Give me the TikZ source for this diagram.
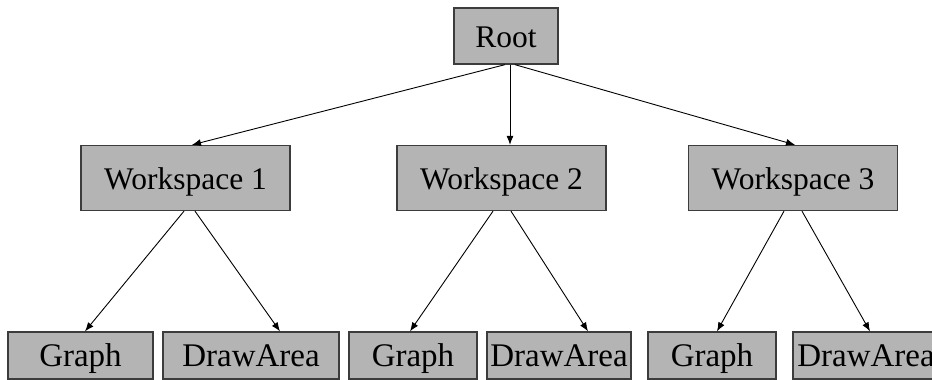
\documentclass[tikz,border=0pt]{standalone}
\usepackage{fontspec}
\setmainfont{Liberation Serif}
\newfontfamily\boxfont{Liberation Serif}
\usetikzlibrary{calc,arrows.meta}
\definecolor{boxgray}{RGB}{180,180,180}
\definecolor{edgegray}{RGB}{60,60,60}
\tikzset{
  box/.style={draw=edgegray, line width=1.3pt, fill=boxgray, inner sep=0pt,
    text height=22pt, text depth=0pt, font=\boxfont\fontsize{31.5}{36}\selectfont},
  leafbox/.style={box, minimum height=47pt, font=\boxfont\fontsize{33}{38}\selectfont},
  arr/.style={line width=0.9pt, -{Latex[length=9pt,width=7pt]}}
}

\begin{document}
\begin{tikzpicture}[x=1pt, y=-1pt]
			%%%%% START %%%%%
			\useasboundingbox (0, 0) rectangle (932, 380);
			\clip (0, 0) rectangle (932, 380);
			
			\node[box, minimum width=104pt, minimum height=56pt] (root) at (506, 36) {Root};
			
			\node[box, minimum width=209pt, minimum height=65pt] (ws1) at (185.5, 178) {Workspace 1};
			\node[box, minimum width=209pt, minimum height=65pt] (ws2) at (501.5, 178) {Workspace 2};
			\node[box, minimum width=209pt, minimum height=65pt] (ws3) at (793, 178) {Workspace 3};
			
			\node[leafbox, minimum width=145pt] (graph1) at (80.5, 355.5) {Graph};
			\node[leafbox, minimum width=176pt] (draw1) at (251, 355.5) {DrawArea};
			\node[leafbox, minimum width=128pt] (graph2) at (413, 355.5) {Graph};
			\node[leafbox, minimum width=144pt] (draw2) at (559, 355.5) {DrawArea};
			\node[leafbox, minimum width=128pt] (graph3) at (712, 355.5) {Graph};
			\node[leafbox, minimum width=146pt] (draw3) at (866, 355.5) {DrawArea};
			
			\draw[arr] ($(root.south)+(-1, 0)$) -- ($(ws1.north)+(6.5, 0)$);
			\draw[arr] ($(root.south)+(4, 0)$) -- ($(ws2.north)+(8.5, 0)$);
			\draw[arr] ($(root.south)+(9, 0)$) -- ($(ws3.north)+(2, 0)$);
			
			\draw[arr] ($(ws1.south)+(-1.5, 0)$) -- ($(graph1.north)+(4.5, 0)$);
			\draw[arr] ($(ws1.south)+(9.5, 0)$) -- ($(draw1.north)+(29, 0)$);
			\draw[arr] ($(ws2.south)+(-8.5, 0)$) -- ($(graph2.north)+(-3, 0)$);
			\draw[arr] ($(ws2.south)+(9.5, 0)$) -- ($(draw2.north)+(29, 0)$);
			\draw[arr] ($(ws3.south)+(-9, 0)$) -- ($(graph3.north)+(5, 0)$);
			\draw[arr] ($(ws3.south)+(9, 0)$) -- ($(draw3.north)+(4, 0)$);
			
			%%%%% END %%%%%
\end{tikzpicture}
\end{document}
